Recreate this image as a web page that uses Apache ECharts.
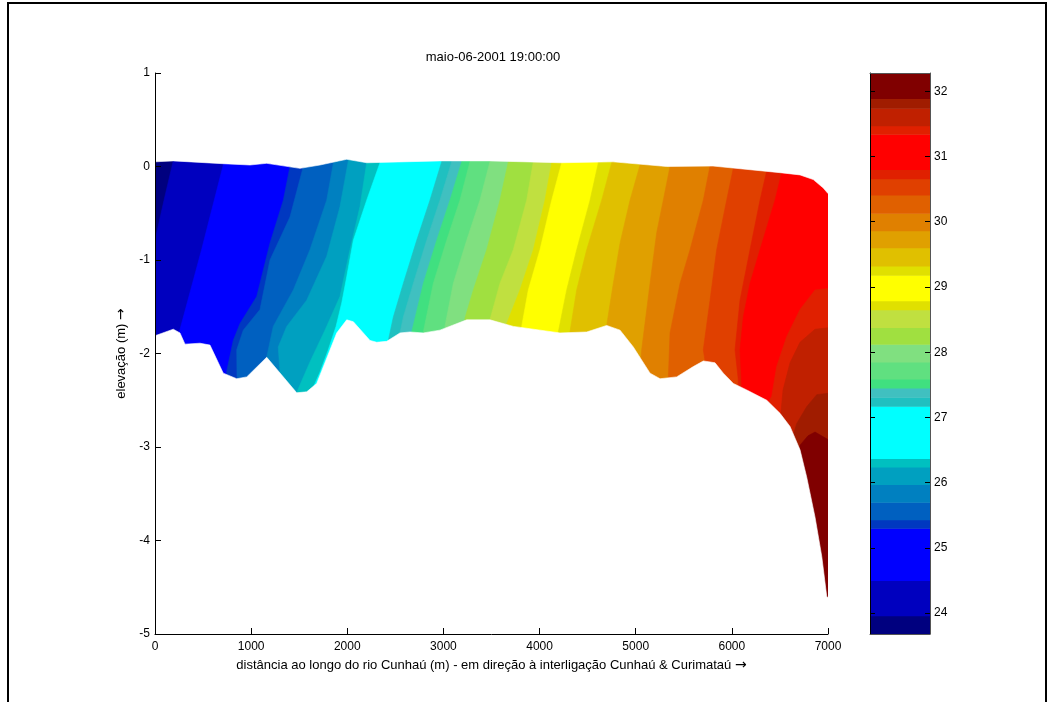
<!DOCTYPE html>
<html>
<head>
<meta charset="utf-8">
<title>maio-06-2001 19:00:00</title>
<script src="https://cdn.jsdelivr.net/npm/echarts/dist/echarts.min.js"></script>
<style>
	html, body { margin: 0; padding: 0; background: #fff; }
	#chart { width: 1050px; height: 702px; }
</style>
</head>
<body>
<div id="chart"></div>
<script>
	//  níveis do colorbar (°C) - limites das faixas
	var levels = [23.68, 23.96, 24.5, 25.3, 25.43, 25.7, 25.97, 26.24, 26.37, 27.17, 27.31, 27.45, 27.59,
		27.85, 28.12, 28.38, 28.65, 28.79, 29.18, 29.32, 29.6, 29.86, 30.13, 30.41, 30.66, 30.8,
		31.34, 31.47, 31.74, 31.89, 32.28];
	var bandColors = ['#00007F', '#0000BF', '#0000FF', '#0038C0', '#0060C0', '#0080C0', '#00A0C0', '#00C0C0',
		'#00FFFF', '#20C0C0', '#40C0C0', '#40E080', '#60E080', '#80E080', '#A0E040', '#C0E040',
		'#E0E000', '#FFFF00', '#E0E000', '#E0C000', '#E0A000', '#E08000', '#E06000', '#E04000',
		'#E02000', '#FF0000', '#E02000', '#C02000', '#A01C00', '#800000'];
	var cbarTicks = [24, 25, 26, 27, 28, 29, 30, 31, 32];

	//  superfície da água  [distância (m), elevação (m)]
	var surface = [[0, 0.05], [190, 0.06], [707, 0.03], [988, 0.016], [1162, 0.034], [1508, -0.02],
		[1716, 0.016], [1994, 0.077], [2202, 0.04], [2964, 0.06], [3484, 0.06], [4212, 0.04],
		[4764, 0.05], [5322, 0.0], [5804, 0.005], [6501, -0.066], [6709, -0.09], [6847, -0.14],
		[6951, -0.23], [7000, -0.29]];

	//  fundo do rio
	var bed = [[0, -1.81], [190, -1.74], [260, -1.78], [312, -1.90], [468, -1.89], [572, -1.91],
		[710, -2.21], [850, -2.27], [954, -2.25], [1162, -2.04], [1474, -2.42], [1578, -2.41],
		[1682, -2.32], [1890, -1.78], [1994, -1.64], [2063, -1.66], [2236, -1.86], [2306, -1.88],
		[2410, -1.87], [2548, -1.78], [2652, -1.77], [2791, -1.78], [2964, -1.75], [3242, -1.64],
		[3484, -1.64], [3727, -1.71], [4212, -1.78], [4490, -1.77], [4698, -1.70], [4837, -1.75],
		[4975, -1.93], [5149, -2.21], [5253, -2.27], [5426, -2.25], [5599, -2.14], [5703, -2.08],
		[5773, -2.09], [5825, -2.10], [5911, -2.21], [6015, -2.32], [6155, -2.39], [6363, -2.50],
		[6501, -2.64], [6605, -2.78], [6709, -3.03], [6778, -3.32], [6865, -3.75], [6935, -4.17],
		[6987, -4.60], [7000, -4.61]];

	//  isotermas: isolines[k] separa a faixa k da faixa k+1 (nível levels[k+1])
	var isolines = [
		[[190, 0.06], [94, -0.36], [0, -0.79]],                                                  // 23.96
		[[710, 0.016], [482, -0.9], [253, -1.77]],                                               // 24.5
		[[1404, 0.0], [1335, -0.36], [1196, -0.82], [1058, -1.39], [884, -1.68], [814, -1.86], [746, -2.19]],
		[[1543, 0.0], [1404, -0.54], [1196, -1.0], [1092, -1.53], [918, -1.75], [850, -1.96], [853, -2.25]],
		[[1855, 0.034], [1786, -0.36], [1612, -0.89], [1439, -1.32], [1230, -1.71], [1162, -2.04]],
		[[2011, 0.06], [1924, -0.43], [1786, -0.96], [1578, -1.43], [1370, -1.71], [1282, -1.93], [1300, -2.2]],
		[[2202, 0.04], [2132, -0.43], [2028, -0.89], [1924, -1.39], [1768, -1.75], [1612, -2.09], [1477, -2.41]],
		[[2340, 0.04], [2202, -0.36], [2063, -0.79], [1994, -1.18], [1942, -1.46], [1883, -1.71], [1799, -1.97], [1716, -2.20], [1643, -2.37]],
		[[2982, 0.05], [2860, -0.36], [2722, -0.79], [2583, -1.25], [2479, -1.61], [2427, -1.86]],   // 27.17
		[[3086, 0.05], [2964, -0.36], [2826, -0.79], [2687, -1.25], [2583, -1.61], [2548, -1.78]],
		[[3190, 0.05], [3068, -0.36], [2930, -0.79], [2791, -1.25], [2670, -1.77]],
		[[3276, 0.05], [3172, -0.36], [3034, -0.79], [2895, -1.25], [2791, -1.77]],
		[[3484, 0.05], [3380, -0.36], [3242, -0.79], [3103, -1.25], [3016, -1.71]],
		[[3675, 0.05], [3588, -0.36], [3450, -0.89], [3311, -1.32], [3224, -1.62]],
		[[3935, 0.05], [3866, -0.36], [3727, -0.89], [3588, -1.25], [3484, -1.64]],
		[[4126, 0.04], [4056, -0.36], [3935, -0.89], [3796, -1.32], [3658, -1.68]],
		[[4230, 0.04], [4126, -0.36], [4004, -0.89], [3883, -1.32], [3814, -1.71]],                 // 28.79
		[[4611, 0.04], [4525, -0.36], [4386, -0.89], [4282, -1.32], [4195, -1.77]],                 // 29.18
		[[4750, 0.04], [4646, -0.36], [4490, -0.89], [4386, -1.32], [4316, -1.77]],
		[[5045, 0.016], [4941, -0.36], [4837, -0.82], [4767, -1.25], [4698, -1.70]],
		[[5357, 0.0], [5287, -0.36], [5218, -0.71], [5149, -1.25], [5062, -1.96], [5055, -2.05]],
		[[5773, 0.005], [5703, -0.36], [5565, -0.89], [5461, -1.25], [5357, -1.78], [5339, -2.27]],
		[[6015, -0.02], [5946, -0.36], [5842, -0.89], [5773, -1.43], [5703, -1.96], [5721, -2.08]],
		[[6363, -0.045], [6293, -0.36], [6189, -0.89], [6085, -1.43], [6033, -1.96], [6067, -2.28]],
		[[6518, -0.07], [6449, -0.36], [6293, -0.89], [6189, -1.25], [6119, -1.61], [6085, -1.96], [6102, -2.32]],  // 30.8
		[[7050, -1.30], [6865, -1.32], [6709, -1.53], [6570, -1.82], [6466, -2.14], [6414, -2.46], [6379, -2.52]],  // 31.34
		[[7050, -1.72], [6865, -1.74], [6709, -1.88], [6605, -2.10], [6532, -2.39], [6511, -2.63]],
		[[7050, -2.42], [6883, -2.44], [6778, -2.57], [6674, -2.75], [6636, -2.88]],
		[[7050, -2.95], [6865, -2.84], [6792, -2.88], [6709, -2.98], [6699, -3.08]]                 // 31.89
	];

	var fontFamily = 'Liberation Sans, Arial, sans-serif';
	var chart = echarts.init(document.getElementById('chart'));

	function clipOf(params) {
		var cs = params.coordSys;
		return { type: 'rect', shape: { x: cs.x, y: cs.y, width: cs.width, height: cs.height } };
	}

	//  cada faixa: região com T >= nível, desenhada em ordem crescente
	function renderBand(params, api) {
		var i = api.value(1);
		var pts;
		if (i === 0) {
			pts = [[-500, 1.5], [-500, -5.5], [7500, -5.5], [7500, 1.5]];
		} else {
			var line = isolines[i - 1];
			var first = line[0], last = line[line.length - 1];
			pts = [[first[0], 1.5]].concat(line, [[last[0], -5.5], [7500, -5.5], [7500, 1.5]]);
		}
		return {
			type: 'polygon',
			shape: { points: pts.map(function (p) { return api.coord(p); }) },
			style: { fill: bandColors[i], stroke: bandColors[i], lineWidth: 0.6 },
			clipPath: clipOf(params)
		};
	}

	//  máscara branca acima da superfície e abaixo do fundo
	function renderMask(params, api) {
		var top = api.value(1) === 0;
		var prof = top ? surface : bed;
		var edgeY = top ? 1.5 : -5.5;
		var pts = [[-100, edgeY], [-100, prof[0][1]]].concat(prof,
			[[7100, prof[prof.length - 1][1]], [7100, edgeY]]);
		return {
			type: 'polygon',
			shape: { points: pts.map(function (p) { return api.coord(p); }) },
			style: { fill: '#fff', stroke: '#fff', lineWidth: 0.6 },
			clipPath: clipOf(params)
		};
	}

	function renderCbar(params, api) {
		var i = api.value(2);
		var p0 = api.coord([0, api.value(1)]);
		var p1 = api.coord([1, api.value(0)]);
		return {
			type: 'rect',
			shape: { x: p0[0], y: p0[1], width: p1[0] - p0[0], height: p1[1] - p0[1] + 0.5 },
			style: { fill: bandColors[i] }
		};
	}

	var bandData = bandColors.map(function (c, i) { return [0, i]; });
	var cbarData = bandColors.map(function (c, i) { return [levels[i], levels[i + 1], i]; });

	//  nome do eixo com a seta em DejaVu (mais longa)
	var nameStyle = {
		color: '#000', fontSize: 13, fontFamily: fontFamily,
		rich: { arr: { fontFamily: 'DejaVu Sans', fontSize: 14, color: '#000' } }
	};

	var option = {
		animation: false,
		backgroundColor: '#fff',
		graphic: [
			{ type: 'rect', z: 100, shape: { x: 8, y: 3, width: 1038, height: 720 },
				style: { fill: 'none', stroke: '#000', lineWidth: 2 } },
			{ type: 'text', x: 493, y: 57, z: 100,
				style: { text: 'maio-06-2001 19:00:00', align: 'center', verticalAlign: 'middle',
					fill: '#000', font: '13px ' + fontFamily } }
		],
		grid: [
			{ left: 155, right: 222, top: 73, bottom: 68 },
			{ left: 870, top: 73, width: 60, height: 561 }
		],
		xAxis: [
			{
				gridIndex: 0, type: 'value', min: 0, max: 7000, interval: 1000, z: 10,
				name: 'distância ao longo do rio Cunhaú (m) - em direção à interligação Cunhaú & Curimataú {arr|→}',
				nameLocation: 'middle', nameGap: 24, nameTextStyle: nameStyle,
				axisLine: { onZero: false, lineStyle: { color: '#000', width: 1 } },
				axisTick: { inside: true, length: 6, lineStyle: { color: '#000' } },
				axisLabel: { color: '#000', fontSize: 12, fontFamily: fontFamily, margin: 7,
					formatter: function (v) { return String(v); } },
				splitLine: { show: false }
			},
			{
				gridIndex: 1, type: 'value', min: 0, max: 1, position: 'bottom', z: 10,
				axisLine: { onZero: false, lineStyle: { color: '#555' } },
				axisTick: { show: false }, axisLabel: { show: false }, splitLine: { show: false }
			},
			{
				gridIndex: 1, type: 'value', min: 0, max: 1, position: 'top', z: 10,
				axisLine: { onZero: false, lineStyle: { color: '#555' } },
				axisTick: { show: false }, axisLabel: { show: false }, splitLine: { show: false }
			}
		],
		yAxis: [
			{
				gridIndex: 0, type: 'value', min: -5, max: 1, interval: 1, z: 10,
				name: 'elevação (m) {arr|→}', nameLocation: 'middle', nameRotate: 90, nameGap: 18,
				nameTextStyle: nameStyle,
				axisLine: { onZero: false, lineStyle: { color: '#000', width: 1 } },
				axisTick: { inside: true, length: 6, lineStyle: { color: '#000' } },
				axisLabel: { color: '#000', fontSize: 12, fontFamily: fontFamily, margin: 5 },
				splitLine: { show: false }
			},
			{
				gridIndex: 1, type: 'value', min: levels[0], max: levels[levels.length - 1],
				position: 'right', z: 10,
				axisLine: { show: true, onZero: false, lineStyle: { color: '#555' } },
				axisTick: { inside: false, length: -5, customValues: cbarTicks, lineStyle: { color: '#000' } },
				axisLabel: { color: '#000', fontSize: 12, fontFamily: fontFamily, margin: 4, customValues: cbarTicks },
				splitLine: { show: false }
			},
			{
				gridIndex: 1, type: 'value', min: levels[0], max: levels[levels.length - 1],
				position: 'left', z: 10,
				axisLine: { show: true, onZero: false, lineStyle: { color: '#000' } },
				axisTick: { inside: false, length: -5, customValues: cbarTicks, lineStyle: { color: '#000' } },
				axisLabel: { show: false },
				splitLine: { show: false }
			}
		],
		series: [
			{ type: 'custom', xAxisIndex: 0, yAxisIndex: 0, renderItem: renderBand, data: bandData, z: 2, silent: true },
			{ type: 'custom', xAxisIndex: 0, yAxisIndex: 0, renderItem: renderMask, data: [[0, 0], [0, 1]], z: 3, silent: true },
			{ type: 'custom', xAxisIndex: 1, yAxisIndex: 1, renderItem: renderCbar, data: cbarData, z: 2, silent: true }
		]
	};

	chart.setOption(option);
</script>
</body>
</html>
